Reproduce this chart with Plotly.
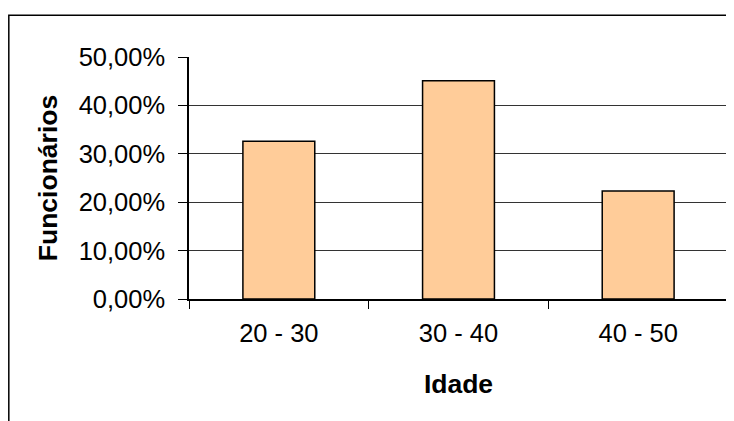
import plotly.graph_objects as go

categories = ["20 - 30", "30 - 40", "40 - 50"]
values = [0.326, 0.451, 0.223]
y_ticks = [0, 0.1, 0.2, 0.3, 0.4, 0.5]

FONT = "Arial, Liberation Sans, sans-serif"

fig = go.Figure(
    go.Bar(
        x=categories,
        y=values,
        marker=dict(color="#FFCC99", line=dict(color="black", width=1.5)),
        width=0.4,
    )
)

fig.update_layout(
    width=726,
    height=413,
    margin=dict(l=181, r=6, t=49, b=122),
    paper_bgcolor="white",
    plot_bgcolor="white",
    separators=",.",
    showlegend=False,
    font=dict(family=FONT, size=25.5, color="black"),
    shapes=[
        dict(type="rect", xref="paper", yref="paper",
             x0=-0.3343, x1=1.05, y0=-0.7, y1=1.1727,
             line=dict(color="black", width=1.5), layer="below"),
        dict(type="line", xref="paper", yref="paper",
             x0=1, x1=1, y0=0, y1=1,
             line=dict(color="#808080", width=1.5)),
    ],
)

fig.update_yaxes(
    range=[0, 0.5],
    tickvals=y_ticks,
    tickformat=".2%",
    ticks="outside",
    ticklen=9,
    tickcolor="black",
    showline=True,
    linecolor="black",
    linewidth=1.5,
    showgrid=True,
    gridcolor="#333333",
    gridwidth=1,
    zeroline=False,
    ticklabelstandoff=8,
    title=dict(text="<b>Funcionários</b>", font=dict(size=26.5), standoff=13),
)

fig.update_xaxes(
    ticks="outside",
    tickson="boundaries",
    ticklen=8,
    tickcolor="black",
    showline=True,
    linecolor="black",
    linewidth=1.5,
    showgrid=False,
    ticklabelstandoff=11,
    title=dict(text="<b>Idade</b>", font=dict(size=26.5), standoff=28),
)

fig.write_html("out.html")
